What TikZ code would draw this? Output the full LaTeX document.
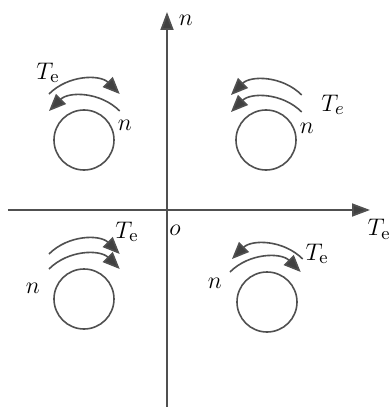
\documentclass[tikz,border=0pt]{standalone}
\usepackage{tikz}
\usetikzlibrary{arrows.meta,positioning}
\definecolor{lngray}{RGB}{80,80,80}
\definecolor{tipgray}{RGB}{65,65,65}

\begin{document}
\begin{tikzpicture}[
    x=0.5pt,y=0.5pt,
    axis/.style={lngray,line width=0.9pt,-{Triangle[length=9pt,width=6.5pt,fill=tipgray]}},
    rotor/.style={circle,draw=lngray,line width=0.8pt,minimum size=30pt,inner sep=0pt},
    rarc/.style={lngray,line width=0.8pt,>={Triangle[length=8.5pt,width=7pt,fill=tipgray]}},
    lbl/.style={inner sep=1pt},
    font=\fontsize{12.5}{15}\selectfont
  ]
  \useasboundingbox (-167,-197) rectangle (223,210);

  %% ── Axes ──────────────────────────────────────────────────────────────────
  \coordinate (o)  at (0,0);
  \coordinate (xl) at (-159,0);
  \coordinate (xr) at (203,0);
  \coordinate (yb) at (0,-197);
  \coordinate (yt) at (0,198);
  \draw[axis] (xl) -- (xr);
  \draw[axis] (yb) -- (yt);
  \node[lbl] (nax) at (19,190)  {$n$};
  \node[lbl] (tax) at (212,-19) {$T_\mathrm{e}$};
  \node[lbl] (org) at (8,-20)   {$o$};

  %% ── Rotors ────────────────────────────────────────────────────────────────
  \node[rotor] (rot1) at (99,70)   {};
  \node[rotor] (rot2) at (-83,70)  {};
  \node[rotor] (rot3) at (-83,-89) {};
  \node[rotor] (rot4) at (100,-92) {};

  %% ── Quadrant I ────────────────────────────────────────────────────────────
  \draw[rarc,<-] ([shift={(-35,45)}]rot1.center) arc (135:45:50);
  \draw[rarc,<-] ([shift={(-35,28)}]rot1.center) arc (135:45:50);
  \node[lbl] (te1) at (166,105) {$T_e$};
  \node[lbl] (n1)  at (140,82)  {$n$};

  %% ── Quadrant II ───────────────────────────────────────────────────────────
  \draw[rarc,->] ([shift={(-35,46)}]rot2.center) arc (135:45:50);
  \draw[rarc,<-] ([shift={(-35,29)}]rot2.center) arc (135:45:50);
  \node[lbl] (te2) at (-119,137) {$T_\mathrm{e}$};
  \node[lbl] (n2)  at (-42,85)   {$n$};

  %% ── Quadrant III ──────────────────────────────────────────────────────────
  \draw[rarc,->] ([shift={(-35,45)}]rot3.center) arc (135:45:50);
  \draw[rarc,->] ([shift={(-35,30)}]rot3.center) arc (135:45:50);
  \node[lbl] (te3) at (-40,-22)  {$T_\mathrm{e}$};
  \node[lbl] (n3)  at (-134,-78) {$n$};

  %% ── Quadrant IV ───────────────────────────────────────────────────────────
  \draw[rarc,<-] ([shift={(-35,43)}]rot4.center) arc (135:45:50);
  \draw[rarc,->] ([shift={(-37,30)}]rot4.center) arc (135:45:50);
  \node[lbl] (te4) at (150,-44) {$T_\mathrm{e}$};
  \node[lbl] (n4)  at (48,-73)  {$n$};

\end{tikzpicture}
\end{document}
